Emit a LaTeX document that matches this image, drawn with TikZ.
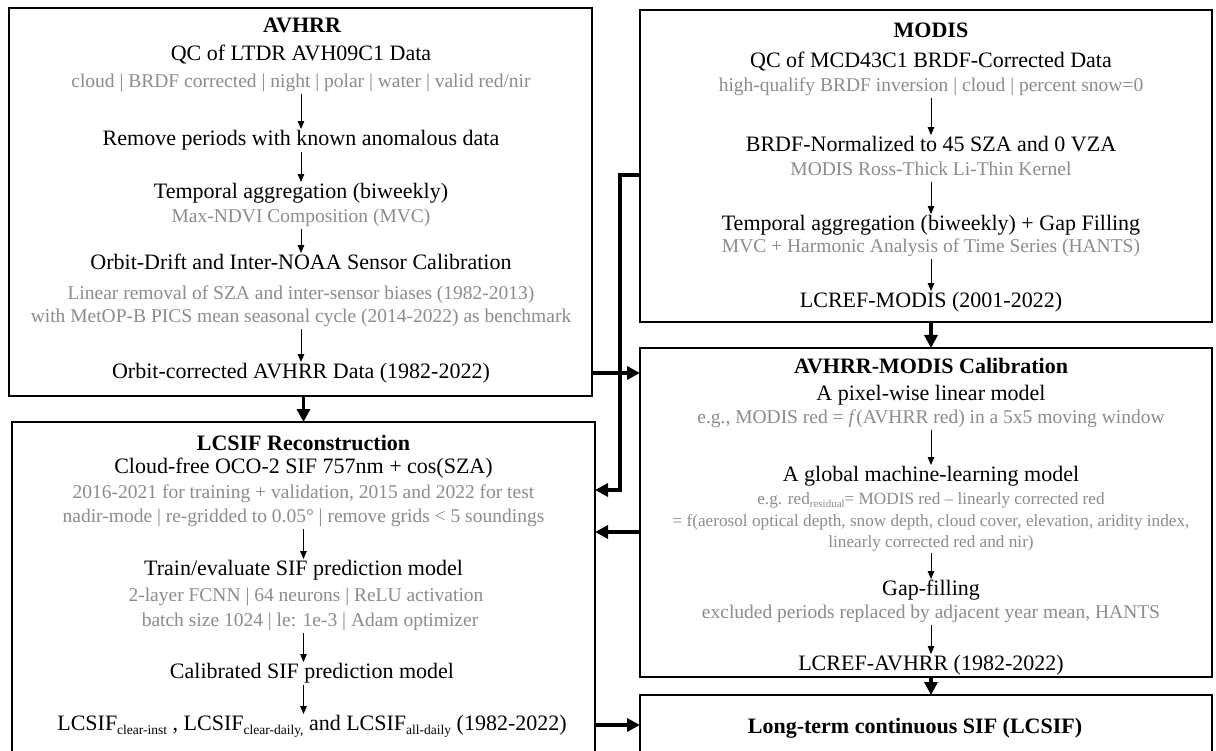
\documentclass[tikz,border=0pt]{standalone}
\usepackage{fontspec}
\setmainfont{Liberation Serif}
\usetikzlibrary{arrows.meta}
\definecolor{graytxt}{HTML}{8C8C8C}
\newcommand{\subx}[1]{\raisebox{-4pt}{\fontsize{13.5}{13.5}\selectfont #1}}
\newcommand{\subs}[1]{\raisebox{-3pt}{\fontsize{11}{11}\selectfont #1}}
\begin{document}
\begin{tikzpicture}[x=1pt,y=-1pt,
  box/.style={draw=black, line width=1.6pt, inner sep=0pt, outer sep=0pt},
  main/.style={font=\fontsize{22}{24}\selectfont, inner sep=0pt, text height=15pt, text depth=4.5pt},
  ttl/.style={font=\fontsize{22}{24}\selectfont\bfseries, inner sep=0pt, text height=15pt, text depth=4.5pt},
  gry/.style={text=graytxt, font=\fontsize{19.5}{22}\selectfont, inner sep=0pt, text height=13pt, text depth=4pt},
  sgry/.style={text=graytxt, font=\fontsize{17.2}{20}\selectfont, inner sep=0pt, text height=12pt, text depth=3.5pt},
  flow/.style={-{Triangle[length=8pt,width=6.5pt]}, line width=1pt, shorten <=2pt, shorten >=1pt},
  big/.style={-{Triangle[length=13pt,width=13pt]}, line width=3.3pt, line join=miter}
]
\useasboundingbox (0,0) rectangle (1216,751);
\clip (0,0) rectangle (1216,751);
\fill[white] (0,0) rectangle (1216,751);

% boxes
\node[box, minimum width=583pt, minimum height=388pt] (avhrr) at (300.5,202) {};
\node[box, minimum width=583pt, minimum height=358pt] (lcsif) at (303.5,601) {};
\node[box, minimum width=572pt, minimum height=312pt] (modis) at (926,166) {};
\node[box, minimum width=572pt, minimum height=329pt] (cal) at (926,512.5) {};
\node[box, minimum width=572pt, minimum height=85pt] (long) at (926,737.5) {};

% AVHRR
\node[ttl] (tA) at (302,27) {AVHRR};
\node[main] (a1) at (301,55) {QC of LTDR AVH09C1 Data};
\node[gry] (a1g) at (301,83) {cloud | BRDF corrected | night | polar | water | valid red/nir};
\node[main] (a2) at (301,140) {Remove periods with known anomalous data};
\node[main] (a3) at (301,193) {Temporal aggregation (biweekly)};
\node[gry] (a3g) at (301,218) {Max-NDVI Composition (MVC)};
\node[main] (a4) at (301,264) {Orbit-Drift and Inter-NOAA Sensor Calibration};
\node[gry] (a4g) at (301,295) {Linear removal of SZA and inter-sensor biases (1982-2013)};
\node[gry] (a4h) at (301,318) {with MetOP-B PICS mean seasonal cycle (2014-2022) as benchmark};
\node[main] (a5) at (301,373) {Orbit-corrected AVHRR Data (1982-2022)};

\draw[flow] (a1g) -- (a2);
\draw[flow] (a2) -- (a3);
\draw[flow] (a3g) -- (a4);
\draw[flow] (a4h) -- (a5);

% LCSIF
\node[ttl] (tL) at (303.5,445) {LCSIF Reconstruction};
\node[main] (l1) at (303.5,468) {Cloud-free OCO-2 SIF 757nm + cos(SZA)};
\node[gry] (l1g) at (303.5,494) {2016-2021 for training + validation, 2015 and 2022 for test};
\node[gry] (l1h) at (303.5,518) {nadir-mode | re-gridded to 0.05° | remove grids < 5 soundings};
\node[main] (l2) at (303.5,570) {Train/evaluate SIF prediction model};
\node[gry] (l2g) at (306,597) {2-layer FCNN | 64 neurons | ReLU activation};
\node[gry] (l2h) at (310,622) {batch size 1024 | le: 1e-3 | Adam optimizer};
\node[main] (l3) at (312,673) {Calibrated SIF prediction model};
\node[main] (l4) at (312,725) {LCSIF\subx{clear-inst} , LCSIF\subx{clear-daily,} and LCSIF\subx{all-daily} (1982-2022)};

\draw[flow] (l1h) -- (l2);
\draw[flow] (l2h.south -| l2) -- (l3.north -| l2);
\draw[flow] (l3.south -| l2) -- (l4.north -| l2);

% MODIS
\node[ttl] (tM) at (931,32) {MODIS};
\node[main] (m1) at (931,62) {QC of MCD43C1 BRDF-Corrected Data};
\node[gry] (m1g) at (931,87) {high-qualify BRDF inversion | cloud | percent snow=0};
\node[main] (m2) at (931,146) {BRDF-Normalized to 45 SZA and 0 VZA};
\node[gry] (m2g) at (931,171) {MODIS Ross-Thick Li-Thin Kernel};
\node[main] (m3) at (931,225) {Temporal aggregation (biweekly) + Gap Filling};
\node[gry] (m3g) at (931,248) {MVC + Harmonic Analysis of Time Series (HANTS)};
\node[main] (m4) at (931,302) {LCREF-MODIS (2001-2022)};

\draw[flow] (m1g) -- (m2);
\draw[flow] (m2g) -- (m3);
\draw[flow] (m3g) -- (m4);

% Calibration
\node[ttl] (tC) at (931,368) {AVHRR-MODIS Calibration};
\node[main] (c1) at (931,395) {A pixel-wise linear model};
\node[gry] (c1g) at (931,419) {e.g., MODIS red = \textit{f}(AVHRR red) in a 5x5 moving window};
\node[main] (c2) at (931,476) {A global machine-learning model};
\node[sgry] (c2g) at (931,500) {e.g. red\subs{residual}= MODIS red -- linearly corrected red};
\node[sgry] (c2h) at (931,522) {= f(aerosol optical depth, snow depth, cloud cover, elevation, aridity index,};
\node[sgry] (c2i) at (931,543) {linearly corrected red and nir)};
\node[main] (c3) at (931,590) {Gap-filling};
\node[gry] (c3g) at (931,614) {excluded periods replaced by adjacent year mean, HANTS};
\node[main] (c4) at (931,665) {LCREF-AVHRR (1982-2022)};

\draw[flow] (c1g) -- (c2);
\draw[flow] (c2i) -- (c3);
\draw[flow] (c3g) -- (c4);

% Long-term
\node[ttl] (tLT) at (915,728) {Long-term continuous SIF (LCSIF)};

% thick connectors
\draw[big] (avhrr.south -| lcsif.north) -- (lcsif.north);
\draw[big] (modis.south -| m4) -- (cal.north -| m4);
\draw[big] (cal.south -| m4) -- (long.north -| m4);
\draw[big] (a5 -| avhrr.east) -- (a5 -| cal.west);
\draw[big] (l4 -| lcsif.east) -- (l4 -| long.west);
\coordinate (jt) at (620,175);
\coordinate (jb) at (620,490);
\coordinate (ky) at (630,532);
\draw[big] (jt -| modis.west) -- (jt) -- (jb) -- (jb -| lcsif.east);
\draw[big] (ky -| cal.west) -- (ky -| lcsif.east);
\end{tikzpicture}
\end{document}
